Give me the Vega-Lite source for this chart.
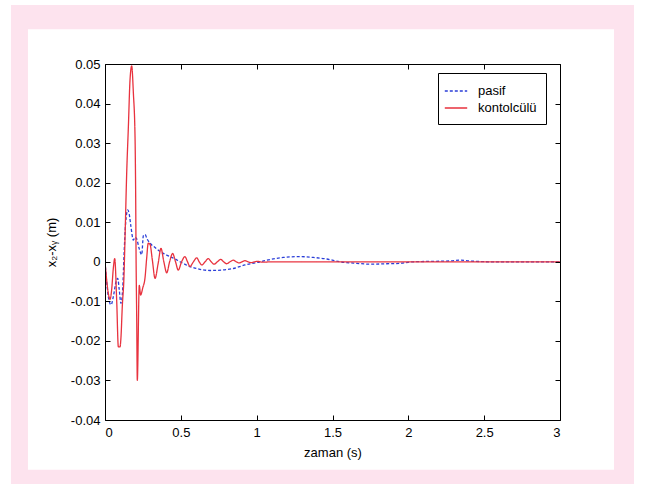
{
  "$schema": "https://vega.github.io/schema/vega-lite/v6.json",
  "width": 455,
  "height": 356,
  "autosize": {"type": "none"},
  "padding": {"left": 105, "top": 64, "right": 85, "bottom": 64},
  "background": "white",
  "config": {
    "view": {"stroke": null},
    "font": "Liberation Sans",
    "axis": {
      "grid": false,
      "domainColor": "#000000",
      "domainWidth": 1,
      "tickColor": "#000000",
      "tickWidth": 1,
      "tickSize": -5,
      "labelFont": "Liberation Sans",
      "labelFontSize": 13,
      "labelColor": "#000000",
      "titleFont": "Liberation Sans",
      "titleFontSize": 13,
      "titleFontWeight": "normal",
      "titleColor": "#000000"
    },
    "legend": {"zindex": 3}
  },
  "datasets": {
    "frame": [
      {"kind": "outer", "x0": -0.62, "x1": 3.488, "y0": -0.07, "y1": 0.0649},
      {"kind": "inner", "x0": -0.508, "x1": 3.356, "y0": -0.0526, "y1": 0.0588}
    ],
    "curves": [
      {"series": "pasif", "t": 0, "v": 0},
      {"series": "pasif", "t": 0.022, "v": -0.0088},
      {"series": "pasif", "t": 0.04, "v": -0.0109},
      {"series": "pasif", "t": 0.055, "v": -0.0088},
      {"series": "pasif", "t": 0.073, "v": -0.005},
      {"series": "pasif", "t": 0.084, "v": -0.0042},
      {"series": "pasif", "t": 0.094, "v": -0.0071},
      {"series": "pasif", "t": 0.105, "v": -0.0105},
      {"series": "pasif", "t": 0.117, "v": -0.0066},
      {"series": "pasif", "t": 0.125, "v": 0.0013},
      {"series": "pasif", "t": 0.136, "v": 0.0097},
      {"series": "pasif", "t": 0.15, "v": 0.0131},
      {"series": "pasif", "t": 0.16, "v": 0.012},
      {"series": "pasif", "t": 0.171, "v": 0.0089},
      {"series": "pasif", "t": 0.187, "v": 0.0055},
      {"series": "pasif", "t": 0.198, "v": 0.0062},
      {"series": "pasif", "t": 0.209, "v": 0.0058},
      {"series": "pasif", "t": 0.224, "v": 0.0035},
      {"series": "pasif", "t": 0.242, "v": 0.0018},
      {"series": "pasif", "t": 0.253, "v": 0.0066},
      {"series": "pasif", "t": 0.264, "v": 0.0069},
      {"series": "pasif", "t": 0.277, "v": 0.0058},
      {"series": "pasif", "t": 0.297, "v": 0.0047},
      {"series": "pasif", "t": 0.33, "v": 0.0036},
      {"series": "pasif", "t": 0.363, "v": 0.0026},
      {"series": "pasif", "t": 0.396, "v": 0.0019},
      {"series": "pasif", "t": 0.429, "v": 0.0013},
      {"series": "pasif", "t": 0.462, "v": 0.0007},
      {"series": "pasif", "t": 0.495, "v": 0},
      {"series": "pasif", "t": 0.56, "v": -0.0012},
      {"series": "pasif", "t": 0.626, "v": -0.0019},
      {"series": "pasif", "t": 0.692, "v": -0.0022},
      {"series": "pasif", "t": 0.769, "v": -0.0021},
      {"series": "pasif", "t": 0.846, "v": -0.0017},
      {"series": "pasif", "t": 0.923, "v": -0.0008},
      {"series": "pasif", "t": 1.0, "v": -0.0002},
      {"series": "pasif", "t": 1.066, "v": 0.0004},
      {"series": "pasif", "t": 1.176, "v": 0.0011},
      {"series": "pasif", "t": 1.286, "v": 0.0013},
      {"series": "pasif", "t": 1.373, "v": 0.0011},
      {"series": "pasif", "t": 1.462, "v": 0.0007},
      {"series": "pasif", "t": 1.549, "v": 0},
      {"series": "pasif", "t": 1.66, "v": -0.0004},
      {"series": "pasif", "t": 1.747, "v": -0.0006},
      {"series": "pasif", "t": 1.857, "v": -0.0005},
      {"series": "pasif", "t": 1.945, "v": -0.0004},
      {"series": "pasif", "t": 2.033, "v": 0},
      {"series": "pasif", "t": 2.143, "v": 0.0001},
      {"series": "pasif", "t": 2.275, "v": 0.0002},
      {"series": "pasif", "t": 2.341, "v": 0.0004},
      {"series": "pasif", "t": 2.407, "v": 0.0002},
      {"series": "pasif", "t": 2.538, "v": 0},
      {"series": "pasif", "t": 3.0, "v": 0},
      {"series": "kontolcülü", "t": 0, "v": 0},
      {"series": "kontolcülü", "t": 0.022, "v": -0.008},
      {"series": "kontolcülü", "t": 0.033, "v": -0.0095},
      {"series": "kontolcülü", "t": 0.044, "v": -0.007},
      {"series": "kontolcülü", "t": 0.055, "v": -0.0016},
      {"series": "kontolcülü", "t": 0.064, "v": 0.0008},
      {"series": "kontolcülü", "t": 0.077, "v": -0.0097},
      {"series": "kontolcülü", "t": 0.088, "v": -0.0215},
      {"series": "kontolcülü", "t": 0.099, "v": -0.0215},
      {"series": "kontolcülü", "t": 0.105, "v": -0.0193},
      {"series": "kontolcülü", "t": 0.114, "v": -0.0113},
      {"series": "kontolcülü", "t": 0.125, "v": -0.0038},
      {"series": "kontolcülü", "t": 0.132, "v": 0.006},
      {"series": "kontolcülü", "t": 0.143, "v": 0.0224},
      {"series": "kontolcülü", "t": 0.154, "v": 0.034},
      {"series": "kontolcülü", "t": 0.165, "v": 0.046},
      {"series": "kontolcülü", "t": 0.176, "v": 0.0495},
      {"series": "kontolcülü", "t": 0.187, "v": 0.0427},
      {"series": "kontolcülü", "t": 0.198, "v": 0.0316},
      {"series": "kontolcülü", "t": 0.202, "v": 0.018},
      {"series": "kontolcülü", "t": 0.205, "v": 0.0005},
      {"series": "kontolcülü", "t": 0.209, "v": -0.0139},
      {"series": "kontolcülü", "t": 0.213, "v": -0.03},
      {"series": "kontolcülü", "t": 0.226, "v": -0.006},
      {"series": "kontolcülü", "t": 0.235, "v": -0.0084},
      {"series": "kontolcülü", "t": 0.249, "v": -0.0066},
      {"series": "kontolcülü", "t": 0.264, "v": -0.004},
      {"series": "kontolcülü", "t": 0.275, "v": 0.001},
      {"series": "kontolcülü", "t": 0.285, "v": 0.0047},
      {"series": "kontolcülü", "t": 0.297, "v": 0.0044},
      {"series": "kontolcülü", "t": 0.312, "v": 0.0005},
      {"series": "kontolcülü", "t": 0.33, "v": -0.0042},
      {"series": "kontolcülü", "t": 0.35, "v": -0.0005},
      {"series": "kontolcülü", "t": 0.369, "v": 0.0034},
      {"series": "kontolcülü", "t": 0.388, "v": 0.0},
      {"series": "kontolcülü", "t": 0.407, "v": -0.0028},
      {"series": "kontolcülü", "t": 0.426, "v": 0.0},
      {"series": "kontolcülü", "t": 0.446, "v": 0.0021},
      {"series": "kontolcülü", "t": 0.465, "v": 0.0},
      {"series": "kontolcülü", "t": 0.483, "v": -0.0021},
      {"series": "kontolcülü", "t": 0.505, "v": 0.0},
      {"series": "kontolcülü", "t": 0.527, "v": 0.0013},
      {"series": "kontolcülü", "t": 0.544, "v": 0.0},
      {"series": "kontolcülü", "t": 0.56, "v": -0.0012},
      {"series": "kontolcülü", "t": 0.583, "v": 0.0},
      {"series": "kontolcülü", "t": 0.605, "v": 0.001},
      {"series": "kontolcülü", "t": 0.621, "v": 0.0},
      {"series": "kontolcülü", "t": 0.638, "v": -0.0008},
      {"series": "kontolcülü", "t": 0.66, "v": 0.0},
      {"series": "kontolcülü", "t": 0.681, "v": 0.0008},
      {"series": "kontolcülü", "t": 0.7, "v": 0.0},
      {"series": "kontolcülü", "t": 0.719, "v": -0.0006},
      {"series": "kontolcülü", "t": 0.741, "v": 0.0},
      {"series": "kontolcülü", "t": 0.763, "v": 0.0006},
      {"series": "kontolcülü", "t": 0.782, "v": 0.0},
      {"series": "kontolcülü", "t": 0.802, "v": -0.0005},
      {"series": "kontolcülü", "t": 0.824, "v": 0.0},
      {"series": "kontolcülü", "t": 0.846, "v": 0.0004},
      {"series": "kontolcülü", "t": 0.865, "v": 0.0},
      {"series": "kontolcülü", "t": 0.884, "v": -0.0003},
      {"series": "kontolcülü", "t": 0.903, "v": 0.0},
      {"series": "kontolcülü", "t": 0.923, "v": 0.0003},
      {"series": "kontolcülü", "t": 0.943, "v": 0.0},
      {"series": "kontolcülü", "t": 0.963, "v": -0.0002},
      {"series": "kontolcülü", "t": 1.002, "v": 0.0001},
      {"series": "kontolcülü", "t": 1.042, "v": -0.0001},
      {"series": "kontolcülü", "t": 1.1, "v": 0.0},
      {"series": "kontolcülü", "t": 3.0, "v": 0.0}
    ]
  },
  "resolve": {"axis": {"x": "independent", "y": "independent"}},
  "layer": [
    {
      "data": {"name": "frame"},
      "transform": [{"filter": "datum.kind == 'outer'"}],
      "mark": {"type": "rect", "fill": "#fde3ee", "clip": false},
      "encoding": {
        "x": {"field": "x0", "type": "quantitative", "scale": {"domain": [0, 3], "nice": false, "zero": false}, "axis": null},
        "x2": {"field": "x1"},
        "y": {"field": "y0", "type": "quantitative", "scale": {"domain": [-0.04, 0.05], "nice": false, "zero": false}, "axis": null},
        "y2": {"field": "y1"}
      }
    },
    {
      "data": {"name": "frame"},
      "transform": [{"filter": "datum.kind == 'inner'"}],
      "mark": {"type": "rect", "fill": "#ffffff", "clip": false},
      "encoding": {
        "x": {"field": "x0", "type": "quantitative", "scale": {"domain": [0, 3], "nice": false, "zero": false},
          "axis": {"orient": "top", "title": null, "labels": false, "zindex": 2, "values": [0, 0.5, 1, 1.5, 2, 2.5, 3]}},
        "x2": {"field": "x1"},
        "y": {"field": "y0", "type": "quantitative", "scale": {"domain": [-0.04, 0.05], "nice": false, "zero": false},
          "axis": {"orient": "right", "title": null, "labels": false, "zindex": 2, "values": [-0.04, -0.03, -0.02, -0.01, 0, 0.01, 0.02, 0.03, 0.04, 0.05]}},
        "y2": {"field": "y1"}
      }
    },
    {
      "data": {"name": "curves"},
      "mark": {"type": "line", "strokeWidth": 1.3, "clip": true, "interpolate": "monotone"},
      "encoding": {
        "x": {"field": "t", "type": "quantitative", "scale": {"domain": [0, 3], "nice": false, "zero": false},
          "axis": {"orient": "bottom", "title": "zaman (s)", "zindex": 2, "values": [0, 0.5, 1, 1.5, 2, 2.5, 3], "labelExpr": "format(datum.value, '~g')", "labelPadding": 11, "titlePadding": 7}},
        "y": {"field": "v", "type": "quantitative", "scale": {"domain": [-0.04, 0.05], "nice": false, "zero": false},
          "axis": {"orient": "left", "title": "x₂-xᵧ (m)", "zindex": 2, "values": [-0.04, -0.03, -0.02, -0.01, 0, 0.01, 0.02, 0.03, 0.04, 0.05], "labelExpr": "replace(format(datum.value, '~g'), '−', '-')", "labelPadding": 10, "titlePadding": 12}},
        "color": {"field": "series", "type": "nominal", "sort": ["pasif", "kontolcülü"],
          "scale": {"domain": ["pasif", "kontolcülü"], "range": ["#2a3ed8", "#e8323e"]},
          "legend": {"orient": "none", "legendX": 333, "legendY": 9, "title": null, "strokeColor": "#000000", "fillColor": "#ffffff", "padding": 9, "symbolType": "M-1.4,0H1.4", "symbolSize": 256, "symbolStrokeWidth": 1.3, "labelFontSize": 13, "labelColor": "#000000", "rowPadding": 1, "labelOffset": 13}},
        "strokeDash": {"field": "series", "type": "nominal", "sort": ["pasif", "kontolcülü"],
          "scale": {"domain": ["pasif", "kontolcülü"], "range": [[3, 2], [1, 0]]}, "legend": null},
        "order": {"field": "t", "type": "quantitative"}
      }
    }
  ]
}
